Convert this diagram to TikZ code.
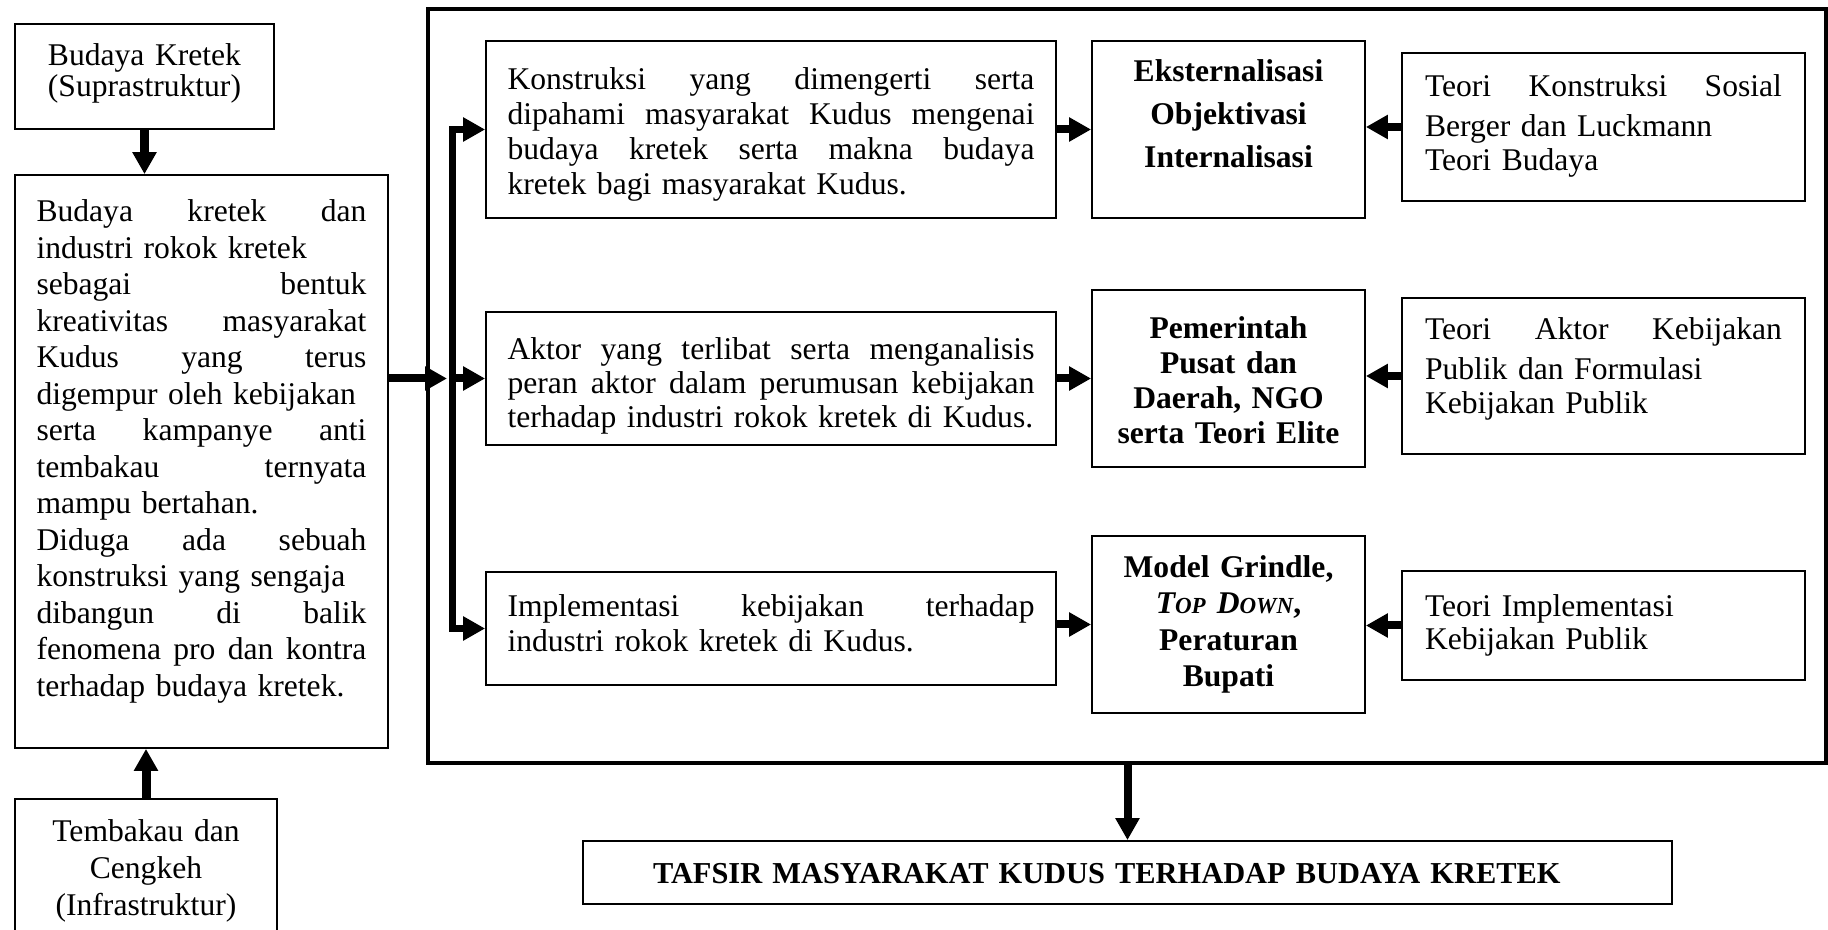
\documentclass[tikz,border=0pt]{standalone}
\usepackage{fontspec}
\setmainfont{Liberation Serif}
\usetikzlibrary{arrows.meta}
\newcommand{\tdcaps}[1]{{\fontsize{11.5pt}{11.5pt}\selectfont #1}}

\begin{document}
\begin{tikzpicture}[x=0.5pt, y=-0.5pt,
		box/.style={draw, line width=0.9pt, inner xsep=0pt, inner ysep=0pt, align=left},
		midbox/.style={box, text width=263.5pt, inner xsep=10.75pt},
		concept/.style={box, align=center, text width=136.5pt},
		theory/.style={box, text width=178.5pt, inner xsep=11.5pt},
		fat/.style={line width=4pt, -{Triangle[length=11pt, width=11.5pt]}}]
	\useasboundingbox (0,0) rectangle (1828,930);
	\clip (0,0) rectangle (1828,930);
	\node[draw, line width=2.2pt, minimum width=699pt, minimum height=377pt, inner sep=0pt] (frame) at (1127,386) {};
	\node[box, align=center, text width=129.5pt, text height=21pt, text depth=31.5pt, font=\fontsize{15.8pt}{15.35pt}\selectfont] (top) at (144.5,76.5) {Budaya Kretek\\(Suprastruktur)};
	\node[box, text width=165pt, inner xsep=10.75pt, text height=23.35pt, text depth=263.15pt, font=\fontsize{15.8pt}{18.25pt}\selectfont] (main) at (201.5,461.5) {Budaya\hfill kretek\hfill dan\\
		industri rokok kretek\\
		sebagai\hfill bentuk\\
		kreativitas\hfill masyarakat\\
		Kudus\hfill yang\hfill terus\\
		digempur oleh kebijakan\\
		serta\hfill kampanye\hfill anti\\
		tembakau\hfill ternyata\\
		mampu bertahan.\\
		Diduga\hfill ada\hfill sebuah\\
		konstruksi yang sengaja\\
		dibangun\hfill di\hfill balik\\
		fenomena\hfill pro\hfill dan\hfill kontra\\
		terhadap budaya kretek.};
	\node[box, align=center, text width=131pt, text height=21.35pt, text depth=56.65pt, font=\fontsize{15.8pt}{18.35pt}\selectfont] (bot) at (146,877) {Tembakau dan\\Cengkeh\\(Infrastruktur)};
	\node[midbox, text height=24.15pt, text depth=64.35pt, font=\fontsize{15.8pt}{17.6pt}\selectfont] (k1) at (771,129.5) {Konstruksi\hfill yang\hfill dimengerti\hfill serta\\
		dipahami\hfill masyarakat\hfill Kudus\hfill mengenai\\
		budaya\hfill kretek\hfill serta\hfill makna\hfill budaya\\
		kretek bagi masyarakat Kudus.};
	\node[midbox, text height=24pt, text depth=42.5pt, font=\fontsize{15.8pt}{17pt}\selectfont] (k2) at (771,378.5) {Aktor\hfill yang\hfill terlibat\hfill serta\hfill menganalisis\\
		peran\hfill aktor\hfill dalam\hfill perumusan\hfill kebijakan\\
		terhadap industri rokok kretek di Kudus.};
	\node[midbox, text height=22.35pt, text depth=34.15pt, font=\fontsize{15.8pt}{17.5pt}\selectfont] (k3) at (771,628.5) {Implementasi\hfill kebijakan\hfill terhadap\\
		industri rokok kretek di Kudus.};
	\node[concept, text height=20.35pt, text depth=68.15pt, font=\fontsize{15.8pt}{21.5pt}\selectfont\bfseries] (e1) at (1228.5,129.5) {Eksternalisasi\\Objektivasi\\Internalisasi};
	\node[concept, text height=24.15pt, text depth=64.35pt, font=\fontsize{15.8pt}{17.5pt}\selectfont\bfseries] (e2) at (1228.5,378.5) {Pemerintah\\Pusat dan\\Daerah, NGO\\serta Teori Elite};
	\node[concept, text height=20.65pt, text depth=67.85pt, font=\fontsize{15.8pt}{18.25pt}\selectfont\bfseries] (e3) at (1228.5,624.5) {Model Grindle,\\{\itshape T\tdcaps{OP}\hspace{0.35em}D\tdcaps{OWN}},\\Peraturan\\Bupati};
	\node[theory, text height=21.85pt, text depth=52.15pt, font=\fontsize{15.8pt}{17pt}\selectfont] (t1) at (1603.5,127) {Teori\hfill Konstruksi\hfill Sosial\\[3pt]
		Berger dan Luckmann\\
		Teori Budaya};
	\node[theory, text height=21pt, text depth=57pt, font=\fontsize{15.8pt}{17pt}\selectfont] (t2) at (1603.5,376) {Teori\hfill Aktor\hfill Kebijakan\\[3pt]
		Publik dan Formulasi\\
		Kebijakan Publik};
	\node[theory, text height=22.85pt, text depth=31.65pt, font=\fontsize{15.8pt}{16.3pt}\selectfont] (t3) at (1603.5,625.5) {Teori Implementasi\\
		Kebijakan Publik};
	\node[box, text width=474.5pt, inner xsep=35pt, text height=21.15pt, text depth=10.35pt, font=\fontsize{15.2pt}{18pt}\selectfont\bfseries] (tafsir) at (1127.5,872.5) {TAFSIR MASYARAKAT KUDUS TERHADAP BUDAYA KRETEK};
	\coordinate (bar) at (452,378.5);
	\draw[fat, line width=4.5pt] (top.south) -- (top.south |- main.north);
	\draw[fat, line width=4.5pt] (bot.north) -- (bot.north |- main.south);
	\draw[fat] (main.east |- bar) -- ([xshift=-2.5pt]bar);
	\draw[fat] (bar) -- (k2.west);
	\draw[line width=3.5pt, line join=miter, {Triangle[length=11pt, width=11.5pt]}-{Triangle[length=11pt, width=11.5pt]}] (k1.west) -- (bar |- k1.west) -- (bar |- k3.west) -- (k3.west);
	\foreach \i in {1,2,3} {
		\draw[fat] (e\i.west -| k\i.east) -- (e\i.west);
		\draw[fat] (t\i.west) -- (t\i.west -| e\i.east);
		}
	\draw[fat] (frame.south -| tafsir.north) -- (tafsir.north);
\end{tikzpicture}
\end{document}
